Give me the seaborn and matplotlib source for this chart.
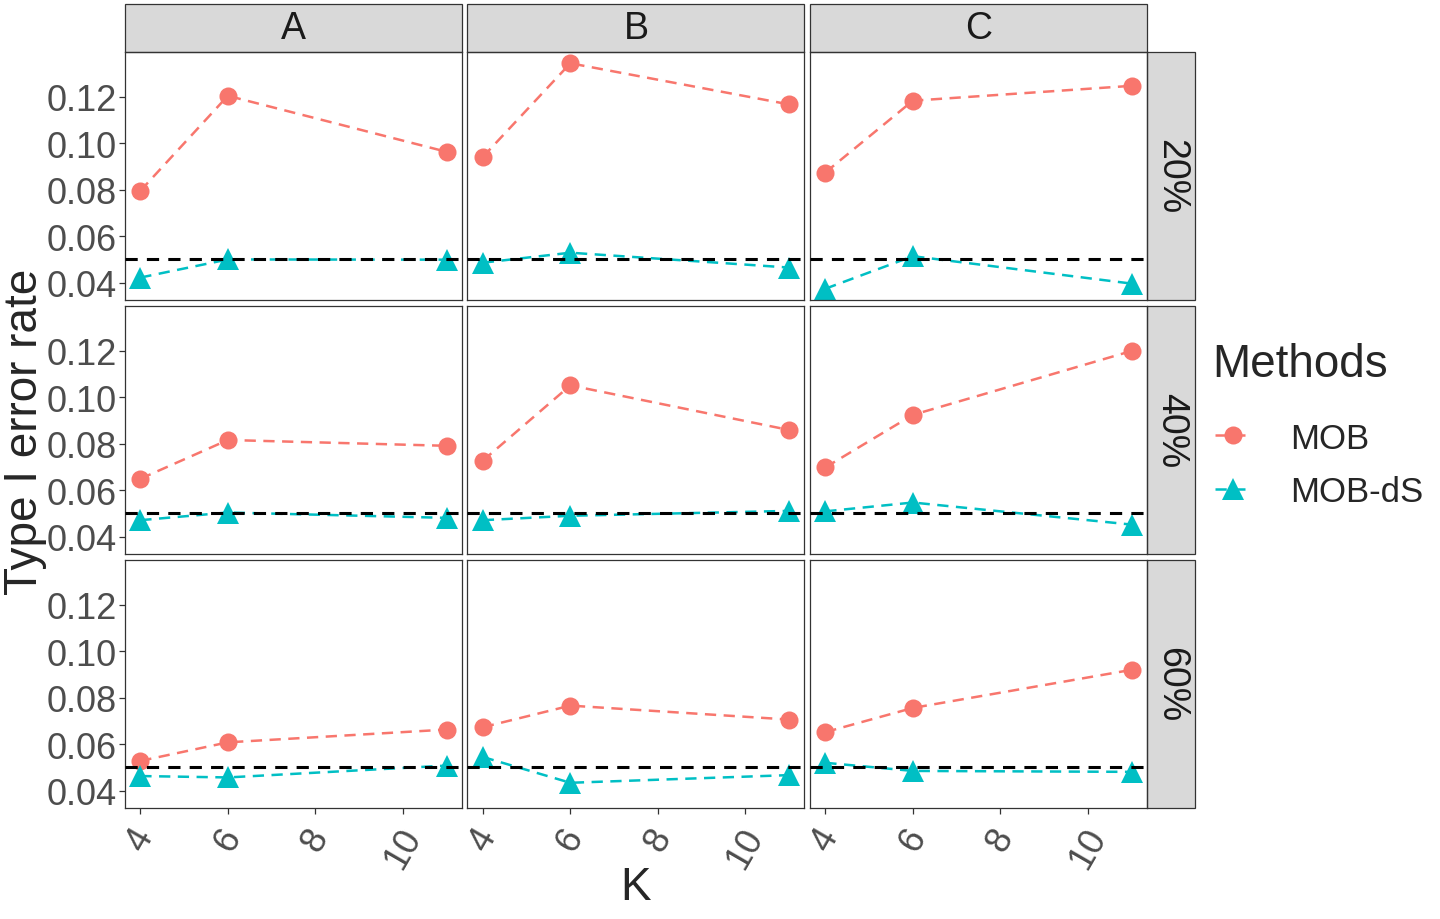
import matplotlib
matplotlib.use('Agg')
import matplotlib.pyplot as plt
from matplotlib.lines import Line2D
from matplotlib.patches import Rectangle
import pandas as pd
import seaborn as sns

k_values = [4, 6, 11]
settings = ['A', 'B', 'C']
censoring = ['20%', '40%', '60%']
methods = ['MOB', 'MOB-dS']

# each list: one row of panels, inner lists follow settings A, B, C over k_values
mob_20 = [[0.0795, 0.1204, 0.0963], [0.0941, 0.1344, 0.1167], [0.0874, 0.1183, 0.1247]]
mob_40 = [[0.0649, 0.0816, 0.0791], [0.0727, 0.1051, 0.0859], [0.0698, 0.0924, 0.1199]]
mob_60 = [[0.0528, 0.0608, 0.0663], [0.0673, 0.0766, 0.0706], [0.0652, 0.0756, 0.0920]]
mobds_20 = [[0.0422, 0.0500, 0.0499], [0.0486, 0.0529, 0.0465], [0.0374, 0.0514, 0.0396]]
mobds_40 = [[0.0471, 0.0504, 0.0481], [0.0471, 0.0490, 0.0511], [0.0509, 0.0547, 0.0452]]
mobds_60 = [[0.0463, 0.0457, 0.0508], [0.0545, 0.0434, 0.0467], [0.0520, 0.0485, 0.0481]]
nominal = 0.05

rows = []
for cens, m_vals, d_vals in zip(censoring, [mob_20, mob_40, mob_60], [mobds_20, mobds_40, mobds_60]):
    for j, s in enumerate(settings):
        for i, k in enumerate(k_values):
            rows.append((cens, s, k, 'MOB', m_vals[j][i]))
            rows.append((cens, s, k, 'MOB-dS', d_vals[j][i]))
df = pd.DataFrame(rows, columns=['Censoring', 'Setting', 'K', 'Method', 'rate'])

sns.set_style('white')
plt.rcParams['font.family'] = ['Liberation Sans', 'DejaVu Sans']

palette = {'MOB': '#F8766D', 'MOB-dS': '#00BFC4'}
dash = (4.5, 3)
g = sns.relplot(data=df, x='K', y='rate', row='Censoring', col='Setting',
                hue='Method', style='Method', kind='line', palette=palette,
                markers=['o', '^'], dashes=[dash, dash],
                linewidth=1.8, markersize=13, markeredgewidth=0,
                legend=False, errorbar=None, height=3, aspect=1.36,
                row_order=censoring, col_order=settings, hue_order=methods,
                facet_kws=dict(margin_titles=False))
fig = g.figure
fig.set_size_inches(14.4, 9.2)
fig.subplots_adjust(left=125 / 1440, right=1147 / 1440, top=1 - 53 / 920,
                    bottom=1 - 809 / 920, wspace=5.5 / 337, hspace=6 / 248)
g.set_titles('')
g.set_axis_labels('', '')

# ggplot-like expansion
ymin, ymax = df['rate'].min(), df['rate'].max()
ypad = (ymax - ymin) * 0.05
xpad = (max(k_values) - min(k_values)) * 0.05
edge = '#333333'
strip_h = 48 / 248
strip_w = 48 / 337

for r in range(3):
    for c in range(3):
        ax = g.axes[r, c]
        for ln in ax.get_lines():
            if ln.get_marker() == '^':
                ln.set_markersize(16)
        ax.axhline(nominal, color='black', linestyle=(0, (4, 3)), linewidth=2.2, zorder=3)
        ax.set_xlim(min(k_values) - xpad, max(k_values) + xpad)
        ax.set_ylim(ymin - ypad, ymax + ypad)
        ax.set_xticks([4, 6, 8, 10])
        ax.set_yticks([0.04, 0.06, 0.08, 0.10, 0.12])
        ax.set_yticklabels(['0.04', '0.06', '0.08', '0.10', '0.12'])
        for sp in ax.spines.values():
            sp.set_visible(True)
            sp.set_color(edge)
            sp.set_linewidth(0.9)
        ax.tick_params(axis='y', left=(c == 0), labelleft=(c == 0), direction='out',
                       length=4, width=0.9, color=edge, labelsize=26,
                       labelcolor='#4D4D4D', pad=2)
        ax.tick_params(axis='x', bottom=(r == 2), labelbottom=(r == 2), direction='out',
                       length=4, width=0.9, color=edge, labelsize=26,
                       labelcolor='#4D4D4D', pad=6)
        if r == 2:
            for lab in ax.get_xticklabels():
                lab.set_rotation(60)
                lab.set_ha('center')
                lab.set_va('top')
        if r == 0:
            ax.add_patch(Rectangle((0, 1), 1, strip_h, transform=ax.transAxes,
                                   clip_on=False, facecolor='#D9D9D9',
                                   edgecolor=edge, linewidth=0.9))
            ax.text(0.5, 1 + strip_h / 2, settings[c], transform=ax.transAxes,
                    ha='center', va='center', fontsize=27, color='#1A1A1A')
        if c == 2:
            ax.add_patch(Rectangle((1, 0), strip_w, 1, transform=ax.transAxes,
                                   clip_on=False, facecolor='#D9D9D9',
                                   edgecolor=edge, linewidth=0.9))
            ax.text(1 + strip_w / 2, 0.5, censoring[r], transform=ax.transAxes,
                    ha='center', va='center', rotation=-90, fontsize=27, color='#1A1A1A')

fig.text(25 / 1440, 1 - 432 / 920, 'Type I error rate', rotation=90,
         ha='center', va='center', fontsize=33)
fig.text(636 / 1440, 1 - 888 / 920, 'K', ha='center', va='center', fontsize=33)

handles = [Line2D([], [], color=palette['MOB'], marker='o', markersize=13,
                  markeredgewidth=0, linestyle=(0, dash), linewidth=1.8),
           Line2D([], [], color=palette['MOB-dS'], marker='^', markersize=16,
                  markeredgewidth=0, linestyle=(0, dash), linewidth=1.8)]
fig.text(1212 / 1440, 1 - 365 / 920, 'Methods', ha='left', va='center', fontsize=33)
leg = fig.legend(handles, methods, loc='center left',
                 bbox_to_anchor=(1184 / 1440, 1 - 466 / 920), frameon=False,
                 fontsize=25, handlelength=1.05, handletextpad=1.1,
                 labelspacing=0.6)

fig.savefig('out.png', dpi=100)
